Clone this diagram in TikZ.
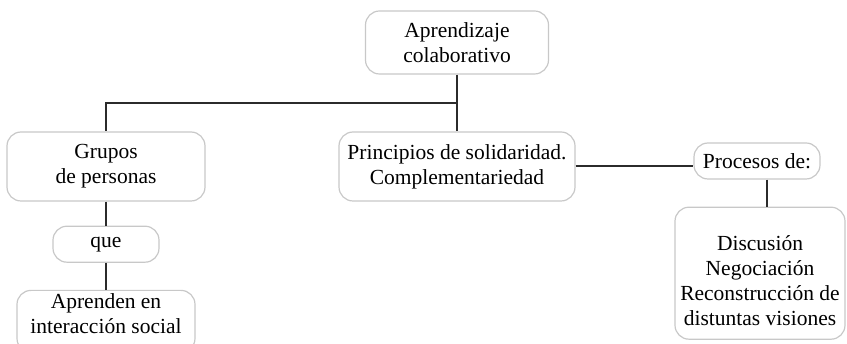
\documentclass[tikz,border=0pt]{standalone}
\usepackage{fontspec}
\setmainfont{Liberation Serif}
\usepackage{tikz}
\usetikzlibrary{positioning}
\definecolor{boxgray}{HTML}{C8C8C8}
\definecolor{linkgray}{HTML}{2B2B2B}
\begin{document}
\begin{tikzpicture}[
    x=1pt,y=1pt,
    box/.style={draw=boxgray,line width=1.2pt,rounded corners=14pt,
      align=center,inner sep=2pt,font=\fontsize{21.5}{25}\selectfont},
    link/.style={draw=linkgray,line width=2pt}]
    \useasboundingbox (0,0) rectangle (847,-344);
    \node[box,minimum width=183pt,minimum height=63pt] (apr) at (457,-42.5) {Aprendizaje\\colaborativo};
    \node[box,minimum width=198pt,minimum height=69pt] (grupos) at (106,-166.5) {Grupos\\de personas};
    \node[box,minimum width=236pt,minimum height=69pt] (princ) at (457,-166.5) {Principios de solidaridad.\\Complementariedad};
    \node[box,minimum width=106pt,minimum height=36pt,below=24pt of grupos] (que) {que};
    \node[box,minimum width=178pt,minimum height=62pt,below=27pt of que] (apren)
      {Aprenden en\\interacción social\rule[-15pt]{0pt}{1pt}};
    \node[box,minimum width=126pt,minimum height=36pt] (proc) at (757,-161) {Procesos de:};
    \node[box,minimum width=170pt,minimum height=132pt,below=27pt of proc,xshift=3pt] (disc)
      {\rule{0pt}{30pt}Discusión\\Negociación\\Reconstrucción de\\distuntas visiones};
    \coordinate (hub) at (457,-103);
    \draw[link] (apr) -- (princ);
    \draw[link] (hub) -| (grupos);
    \draw[link] (grupos) -- (que);
    \draw[link] (que) -- (apren);
    \draw[link] (princ.east) -- (princ.east -| proc.west);
    \draw[link] ([xshift=10pt]proc.south) -- ([xshift=10pt]proc.south |- disc.north);
  \end{tikzpicture}
\end{document}
